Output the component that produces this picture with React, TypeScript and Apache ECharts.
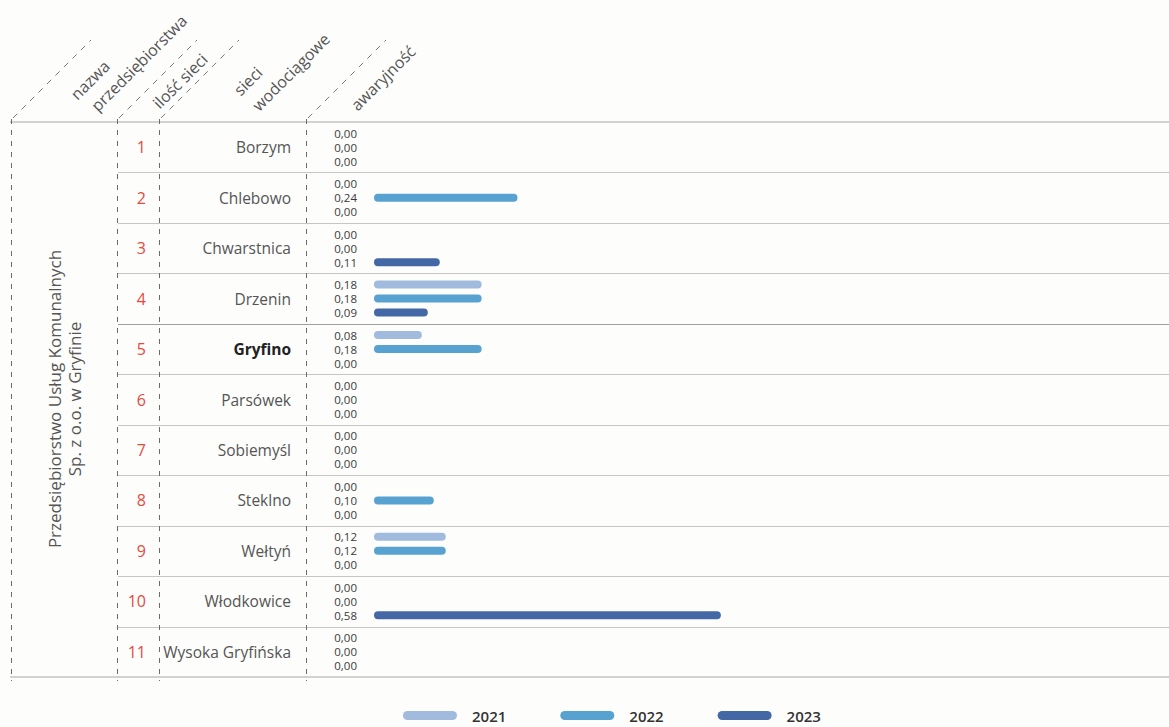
import React, { useEffect, useRef } from "react";
import * as echarts from "echarts";

const categories = [
  "Borzym",
  "Chlebowo",
  "Chwarstnica",
  "Drzenin",
  "Gryfino",
  "Parsówek",
  "Sobiemyśl",
  "Steklno",
  "Wełtyń",
  "Włodkowice",
  "Wysoka Gryfińska",
];
const numbers = ["1", "2", "3", "4", "5", "6", "7", "8", "9", "10", "11"];
const years = ["2021", "2022", "2023"];
const v2021 = [0, 0, 0, 0.18, 0.08, 0, 0, 0, 0.12, 0, 0];
const v2022 = [0, 0.24, 0, 0.18, 0.18, 0, 0, 0.1, 0.12, 0, 0];
const v2023 = [0, 0, 0.11, 0.09, 0, 0, 0, 0, 0, 0.58, 0];
const boldCategory = "Gryfino";
const colors = ["#a0bbdd", "#58a2d2", "#4468a6"];

const FONT = "'Open Sans', 'Noto Sans', sans-serif";
const W = 1169;
const H = 727;
const TOP = 122;
const BOTTOM = 677;
const GRID_LEFT = 374;
const PX_PER_UNIT = 598;

export default function App() {
  const ref = useRef<HTMLDivElement>(null);

  useEffect(() => {
    if (!ref.current) return;
    const chart = echarts.init(ref.current, null, { renderer: "svg" });
    const rowH = (BOTTOM - TOP) / categories.length;
    const gridW = W - GRID_LEFT;

    const graphics: any[] = [];
    graphics.push({
      type: "line",
      shape: { x1: 10, y1: TOP, x2: W, y2: TOP },
      style: { stroke: "#a8a8a8", lineWidth: 1.2 },
    });
    graphics.push({
      type: "line",
      shape: { x1: 10, y1: BOTTOM, x2: W, y2: BOTTOM },
      style: { stroke: "#a8a8a8", lineWidth: 1.2 },
    });
    for (let i = 1; i < categories.length; i++) {
      const y = Math.round(TOP + i * rowH) + 0.5;
      graphics.push({
        type: "line",
        shape: { x1: 118, y1: y, x2: W, y2: y },
        style: { stroke: i === 4 ? "#a0a0a0" : "#c6c6c6", lineWidth: 1 },
      });
    }
    const colXs = [11, 117, 159, 306];
    colXs.forEach((x) => {
      graphics.push({
        type: "line",
        shape: { x1: x + 0.5, y1: TOP - 3, x2: x + 0.5, y2: BOTTOM + 4 },
        style: { stroke: "#6a6a6a", lineWidth: 1, lineDash: [5, 6] },
      });
      graphics.push({
        type: "line",
        shape: { x1: x + 2, y1: TOP - 4, x2: x + 80, y2: TOP - 82 },
        style: { stroke: "#7a7a7a", lineWidth: 1, lineDash: [6, 6] },
      });
    });
    const headers = [
      { t: "nazwa", x: 90, y: 80 },
      { t: "przedsiębiorstwa", x: 139, y: 63 },
      { t: "ilość sieci", x: 180, y: 81 },
      { t: "sieci", x: 248, y: 81 },
      { t: "wodociągowe", x: 291, y: 72 },
      { t: "awaryjność", x: 383, y: 78 },
    ];
    headers.forEach((h) => {
      graphics.push({
        type: "text",
        x: h.x,
        y: h.y,
        rotation: Math.PI / 4,
        style: {
          text: h.t,
          x: 0,
          y: 0,
          align: "center",
          verticalAlign: "middle",
          fontSize: 16,
          fontFamily: FONT,
          fill: "#555",
        },
      });
    });
    [
      { t: "Przedsiębiorstwo Usług Komunalnych", x: 54 },
      { t: "Sp. z o.o. w Gryfinie", x: 74 },
    ].forEach((l) => {
      graphics.push({
        type: "text",
        x: l.x,
        y: 399,
        rotation: Math.PI / 2,
        style: {
          text: l.t,
          x: 0,
          y: 0,
          align: "center",
          verticalAlign: "middle",
          fontSize: 17,
          fontFamily: FONT,
          fill: "#555",
        },
      });
    });

    const fmt = (p: any) => Number(p.value).toFixed(2).replace(".", ",");
    const seriesData = [v2021, v2022, v2023];

    chart.setOption({
      animation: false,
      backgroundColor: "#fdfdfc",
      textStyle: { fontFamily: FONT },
      grid: { left: GRID_LEFT, top: TOP, width: gridW, height: BOTTOM - TOP, containLabel: false },
      xAxis: {
        type: "value",
        min: 0,
        max: gridW / PX_PER_UNIT,
        show: false,
      },
      yAxis: [
        {
          type: "category",
          data: categories,
          inverse: true,
          position: "left",
          axisLine: { show: false },
          axisTick: { show: false },
          splitLine: { show: false },
          axisLabel: {
            margin: 83,
            formatter: (v: string) => (v === boldCategory ? `{b|${v}}` : `{n|${v}}`),
            rich: {
              n: { fontSize: 15.5, fontFamily: FONT, color: "#555" },
              b: { fontSize: 15.5, fontFamily: FONT, color: "#222", fontWeight: "bold" },
            },
          },
        },
        {
          type: "category",
          data: numbers,
          inverse: true,
          position: "left",
          axisLine: { show: false },
          axisTick: { show: false },
          splitLine: { show: false },
          axisLabel: {
            margin: 228,
            align: "right",
            fontSize: 16,
            fontFamily: FONT,
            color: "#e8483e",
          },
        },
      ],
      legend: {
        data: years,
        left: 398,
        top: 703,
        itemWidth: 54,
        itemHeight: 9,
        itemGap: 54,
        icon: "path://M4.5,0 L49.5,0 A4.5,4.5 0 0 1 49.5,9 L4.5,9 A4.5,4.5 0 0 1 4.5,0 Z",
        textStyle: {
          fontSize: 15,
          fontWeight: 600,
          color: "#333",
          fontFamily: FONT,
          padding: [0, 0, 0, 10],
        },
      },
      series: years.map((y, i) => ({
        name: y,
        type: "bar",
        yAxisIndex: 0,
        data: seriesData[i],
        barWidth: 8,
        barGap: "75%",
        itemStyle: { color: colors[i], borderRadius: 4 },
        label: {
          show: true,
          position: "left",
          distance: 17,
          formatter: fmt,
          fontSize: 11.5,
          lineHeight: 12,
          fontFamily: FONT,
          color: "#3a3a3a",
        },
      })),
      graphic: graphics,
    });

    return () => chart.dispose();
  }, []);

  return (
    <div
      ref={ref}
      style={{ position: "fixed", left: 0, top: 0, width: W, height: H }}
    />
  );
}
